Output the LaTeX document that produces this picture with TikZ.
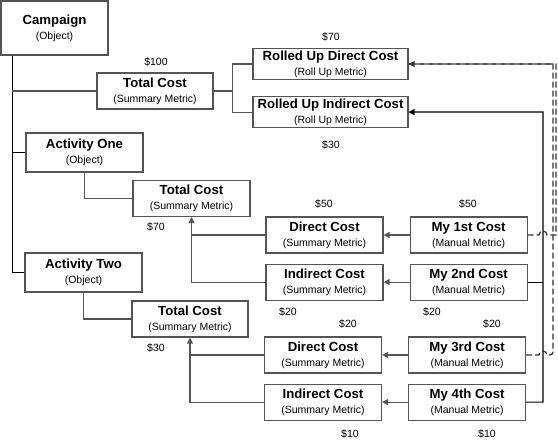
\documentclass[tikz,border=0pt]{standalone}
\usepackage{fontspec}
\setmainfont{Liberation Sans}
\usepackage{tikz}
\usetikzlibrary{positioning, arrows.meta}
\definecolor{linegray}{HTML}{555555}
\newcommand{\boxhead}[1]{{\fontsize{13.2}{15}\selectfont\bfseries #1}}
\newcommand{\boxkind}[1]{{\fontsize{10.5}{15}\selectfont (#1)}}
\tikzset{
	>={Triangle[length=6pt, width=6pt]},
	objbox/.append style={
		draw=linegray,
		line width=1.1pt,
		fill=white,
		align=center,
		inner sep=0pt,
		font=\fontsize{10.5}{15}\selectfont,
		minimum width=117pt,
		minimum height=39pt
	},
	metric/.append style={
		objbox,
		minimum height=36pt,
	},
	rollup/.append style={
		objbox,
		minimum width=155pt,
		minimum height=31pt,
	},
	amount/.append style={
		inner sep=0pt,
		font=\fontsize{10.5}{12}\selectfont
	},
	trunk/.append style={line width=1.2pt, black},
	tree/.append style={line width=1.2pt, linegray},
	flow/.append style={tree, ->},
	link/.append style={
		line width=1.2pt,
		black!80,
		dash pattern=on 6pt off 3pt
	}
}

\begin{document}
\begin{tikzpicture}[x=1pt, y=-1pt]
	\useasboundingbox (0,0) rectangle (558,440);
	
	\node (campaign)[objbox, minimum width=107pt, minimum height=54pt] at (54.5,28) {\boxhead{Campaign}\\\boxkind{Object}};
	\node (tc0)[metric, minimum width=116pt] at (155,91) {\boxhead{Total Cost}\\\boxkind{Summary Metric}};
	\node (rud)[rollup] at (330.5,64) {\boxhead{Rolled Up Direct Cost}\\\boxkind{Roll Up Metric}};
	\node (rui)[rollup, below=16pt of rud] {\boxhead{Rolled Up Indirect Cost}\\\boxkind{Roll Up Metric}};
	
	\node (act1)[objbox] at (84.5,152.5) {\boxhead{Activity One}\\\boxkind{Object}};
	\node (tc1)[metric] at (191.5,198.5) {\boxhead{Total Cost}\\\boxkind{Summary Metric}};
	\node (dc1)[metric] at (324.5,235) {\boxhead{Direct Cost}\\\boxkind{Summary Metric}};
	\node (my1)[metric, right=26pt of dc1] {\boxhead{My 1st Cost}\\\boxkind{Manual Metric}};
	\node (ic1)[metric, below=10pt of dc1] {\boxhead{Indirect Cost}\\\boxkind{Summary Metric}};
	\node (my2)[metric, right=26pt of ic1] {\boxhead{My 2nd Cost}\\\boxkind{Manual Metric}};
	
	\node (act2)[objbox] at (83.5,272.5) {\boxhead{Activity Two}\\\boxkind{Object}};
	\node (tc2)[metric, minimum width=116pt] at (190,319) {\boxhead{Total Cost}\\\boxkind{Summary Metric}};
	\node (dc2)[metric] at (323,355) {\boxhead{Direct Cost}\\\boxkind{Summary Metric}};
	\node (my3)[metric, right=26pt of dc2] {\boxhead{My 3rd Cost}\\\boxkind{Manual Metric}};
	\node (ic2)[metric, below=10pt of dc2] {\boxhead{Indirect Cost}\\\boxkind{Summary Metric}};
	\node (my4)[metric, right=26pt of ic2] {\boxhead{My 4th Cost}\\\boxkind{Manual Metric}};
	
	% values
	\node (valTotal)[amount] at (156,62) {\$100};
	\node (valRud)[amount] at (331,37) {\$70};
	\node (valRui)[amount] at (331,145) {\$30};
	\node (valOne)[amount] at (156,227) {\$70};
	\node (valDc1)[amount] at (324,204) {\$50};
	\node (valMy1)[amount] at (468,204) {\$50};
	\node (valIc1)[amount] at (288,312) {\$20};
	\node (valMy2)[amount] at (432,312) {\$20};
	\node (valDc2)[amount] at (348,324) {\$20};
	\node (valMy3)[amount] at (492,324) {\$20};
	\node (valTwo)[amount] at (156,348) {\$30};
	\node (valIc2)[amount] at (350,434) {\$10};
	\node (valMy4)[amount] at (487,434) {\$10};
	
	% tree
	\coordinate (trunk) at ([xshift=12pt]campaign.south west);
	\draw[trunk] (trunk) |- (act2.west);
	\draw[trunk] (trunk |- act1.west) -- (act1.west);
	\draw[tree] (trunk |- tc0.west) -- (tc0.west);
	\draw[tree] (act1.south) |- (tc1.west);
	\draw[tree] (act2.south) |- (tc2.west);
	
	\coordinate (fork) at ([xshift=19pt]tc0.east);
	\draw[tree] (tc0.east) -- (fork);
	\draw[tree] (rud.west) -| (fork) |- (rui.west);
	
	% summaries
	\draw[flow] (my1) -- (dc1);
	\draw[flow] (my2) -- (ic1);
	\draw[flow] (my3) -- (dc2);
	\draw[flow] (my4) -- (ic2);
	\draw[tree] (dc1.west) -- (dc1.west -| tc1.south);
	\draw[flow] (ic1.west) -| (tc1.south);
	\draw[tree] (dc2.west) -- (dc2.west -| tc2.south);
	\draw[flow] (ic2.west) -| (tc2.south);
	
	% roll ups
	\coordinate (bus) at (543,112);
	\draw[trunk] (my2.east) -- (my2.east -| bus);
	\draw[trunk, ->] (my4.east) -| (bus) -- (rui.east);
	
	\coordinate (hop1) at (bus |- my1.east);
	\coordinate (hop3) at (bus |- my3.east);
	\coordinate (outer) at (556,64);
	\coordinate (inner) at (553,64);
	\draw[link] (my3.east) -- ([xshift=-4pt]hop3) arc[start angle=180, end angle=0, radius=4pt] [rounded corners=3pt] -- (inner |- hop3) [sharp corners] -- (inner) -- (rud.east);
	\draw[link, ->] (my1.east) -- ([xshift=-4pt]hop1) arc[start angle=180, end angle=0, radius=4pt] -- (outer |- hop1) -- (outer) -- (rud.east);
	
\end{tikzpicture}
\end{document}
